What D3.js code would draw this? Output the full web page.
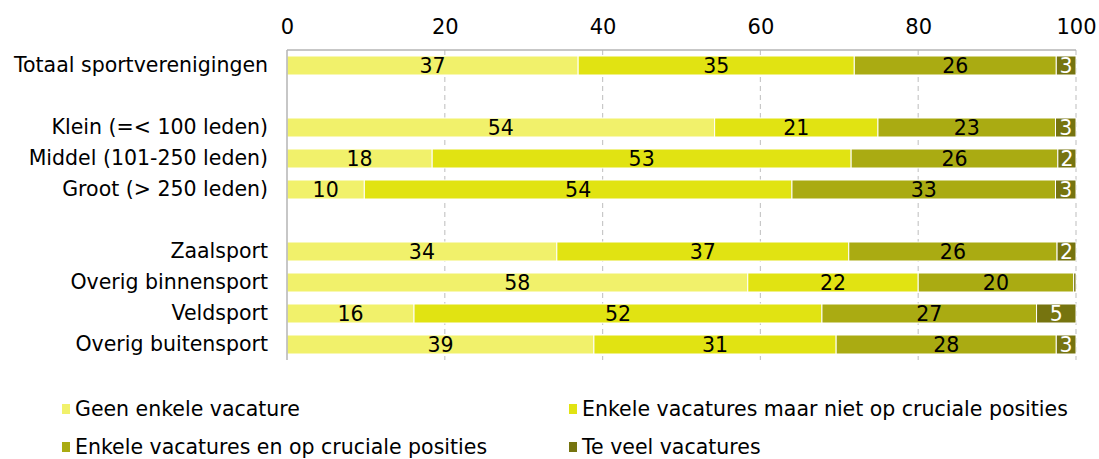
<!DOCTYPE html>
<html><head><meta charset="utf-8">
<script src="https://cdn.jsdelivr.net/npm/d3@7"></script>
<style>body{margin:0;background:#fff}svg{display:block;font-family:"DejaVu Sans",sans-serif}</style>
</head><body><svg id="c" width="1099" height="459"></svg>
<script>
const categories = ["Totaal sportverenigingen","Klein (=< 100 leden)","Middel (101-250 leden)","Groot (> 250 leden)","Zaalsport","Overig binnensport","Veldsport","Overig buitensport"];
const groups = [0,1,1,1,2,2,2,2];
const seriesNames = ["Geen enkele vacature","Enkele vacatures maar niet op cruciale posities","Enkele vacatures en op cruciale posities","Te veel vacatures"];
const geenVacature = [36.9,54.2,18.4,9.8,34.2,58.4,16.1,38.9];
const nietCruciaal = [35.0,20.7,53.1,54.2,37.0,21.6,51.7,30.7];
const welCruciaal = [25.6,22.5,26.2,33.4,26.4,19.7,27.2,27.9];
const teVeel = [2.5,2.6,2.3,2.6,2.4,0.3,5.0,2.5];
const xTicks = [0,20,40,60,80,100];
const colors = ["#f1f16b","#e1e312","#aaab12","#76740f"];

const FS = 20.5;
const series = [geenVacature,nietCruciaal,welCruciaal,teVeel];
const svg = d3.select("#c");
const L=287,R=1076,T=50,B=360;
const slots=[]; categories.forEach((c,i)=>{ if(i>0 && groups[i]!==groups[i-1]) slots.push("__gap"+i); slots.push(c); });
const x = d3.scaleLinear().domain([0,100]).range([L,R]);
const y = d3.scaleBand().domain(slots).range([T,B]).paddingInner(0.387).paddingOuter(0.1935);

svg.append("g").selectAll("line").data(xTicks.filter(d=>d>0)).join("line")
  .attr("x1",d=>x(d)).attr("x2",d=>x(d)).attr("y1",T).attr("y2",B)
  .attr("stroke","#c8c8c8").attr("stroke-width",1.2).attr("stroke-dasharray","5,4");
svg.append("line").attr("x1",L).attr("x2",R).attr("y1",T).attr("y2",T).attr("stroke","#b4b4b4").attr("stroke-width",1.5);

const xa = svg.append("g").attr("transform",`translate(0,${T})`).call(d3.axisTop(x).tickValues(xTicks).tickSize(0).tickPadding(16));
xa.select(".domain").remove();
xa.selectAll("text").attr("font-size",21).attr("fill","#000").attr("font-family","DejaVu Sans");

const rows = categories.map((c,i)=>{let acc=0;return series.map((s,k)=>{const v=s[i];const o={cat:c,k,v,x0:acc,x1:acc+v};acc+=v;return o;});});
const g = svg.append("g");
rows.forEach(r=>{
  g.selectAll(null).data(r).join("rect")
   .attr("x",d=>x(d.x0)).attr("width",d=>x(d.x1)-x(d.x0))
   .attr("y",d=>y(d.cat)).attr("height",y.bandwidth())
   .attr("fill",d=>colors[d.k]).attr("stroke","#fff").attr("stroke-width",1);
  g.selectAll(null).data(r.filter(d=>Math.round(d.v)>=1)).join("text")
   .attr("x",d=>(x(d.x0)+x(d.x1))/2).attr("y",d=>y(d.cat)+y.bandwidth()/2)
   .attr("dy","0.36em").attr("text-anchor","middle").attr("font-size",FS)
   .attr("fill",d=>d.k===3?"#fff":"#000").text(d=>Math.round(d.v));
});

svg.append("line").attr("x1",L).attr("x2",L).attr("y1",T).attr("y2",B).attr("stroke","#b4b4b4").attr("stroke-width",1.5);
const ya = svg.append("g").attr("transform",`translate(${L},0)`).call(d3.axisLeft(y).tickValues(categories).tickSize(0).tickPadding(19));
ya.select(".domain").remove();
ya.selectAll("text").attr("font-size",FS).attr("fill","#000").attr("font-family","DejaVu Sans");

const legPos = [[62,409],[569,409],[62,447],[569,447]];
const lg = svg.append("g").selectAll("g").data(seriesNames).join("g").attr("transform",(d,i)=>`translate(${legPos[i][0]},${legPos[i][1]})`);
lg.append("rect").attr("x",0).attr("y",-5).attr("width",8).attr("height",10).attr("fill",(d,i)=>colors[i]);
lg.append("text").attr("x",13).attr("dy","0.36em").attr("font-size",FS).text(d=>d);
</script></body></html>
